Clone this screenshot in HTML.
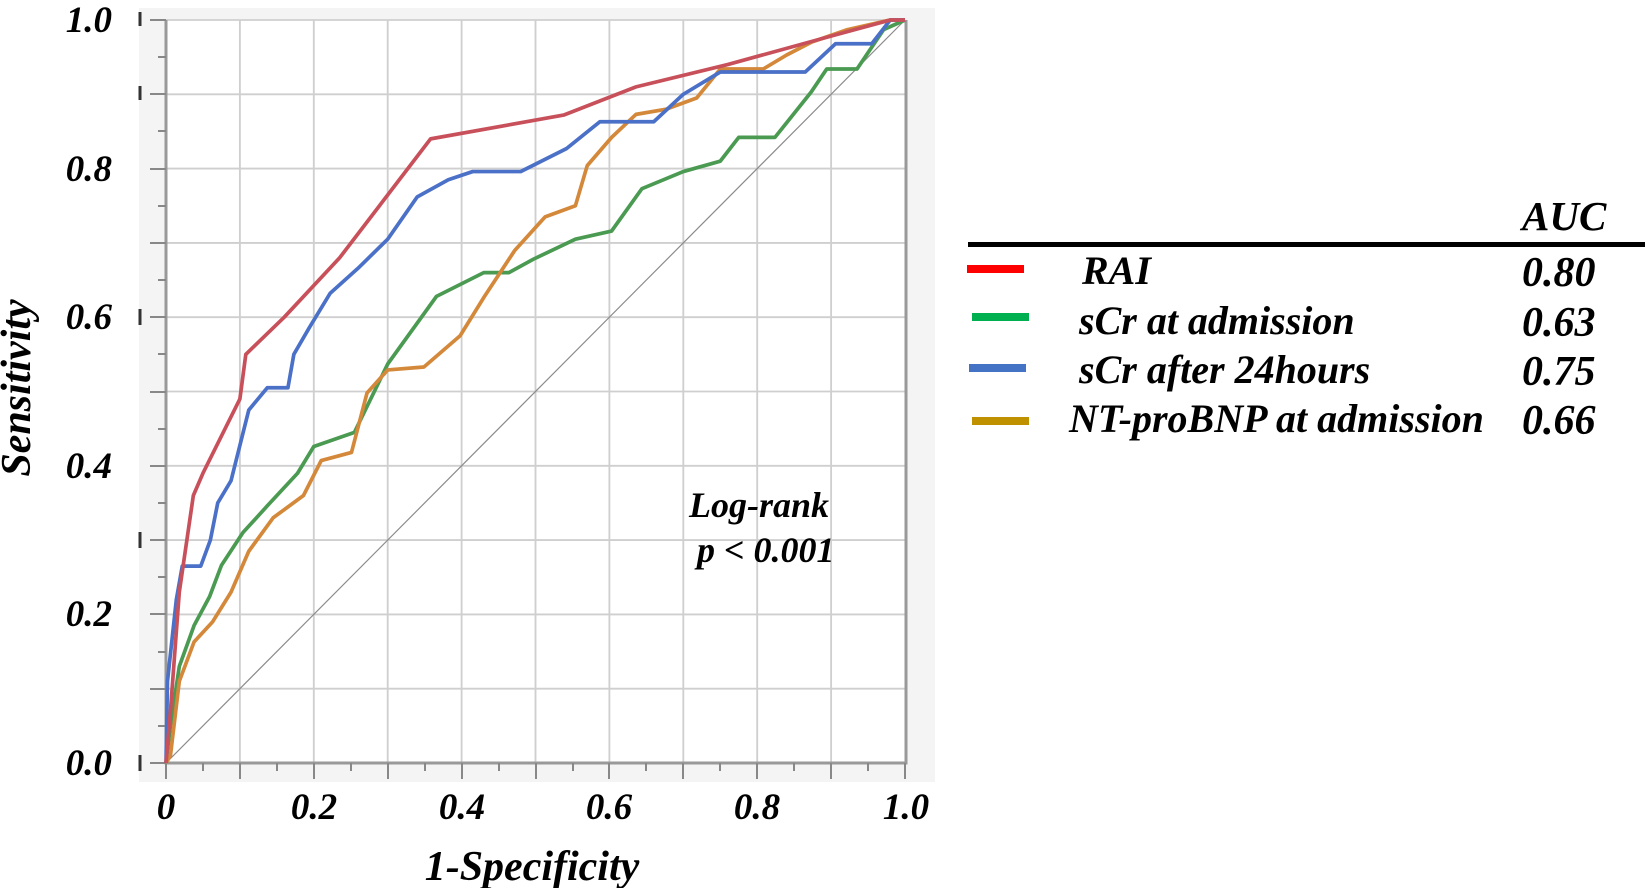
<!DOCTYPE html>
<html><head><meta charset="utf-8"><style>
html,body{margin:0;padding:0;background:#fff;}
svg{display:block;}
text{font-family:"Liberation Serif",serif;font-weight:bold;font-style:italic;fill:#000;}
</style></head><body>
<svg width="1645" height="888" viewBox="0 0 1645 888" xmlns="http://www.w3.org/2000/svg">
<rect x="139" y="8" width="796" height="774" fill="#f4f4f4"/>
<g transform="translate(166,763) scale(739,-743)">
<rect x="0" y="0" width="1" height="1" fill="#fff"/>
<g stroke="#cfcfcf" stroke-width="0.0025" fill="none">
<path d="M0.1 0V1M0.2 0V1M0.3 0V1M0.4 0V1M0.5 0V1M0.6 0V1M0.7 0V1M0.8 0V1M0.9 0V1"/>
<path d="M0 0.1H1M0 0.2H1M0 0.3H1M0 0.4H1M0 0.5H1M0 0.6H1M0 0.7H1M0 0.8H1M0 0.9H1M0 1H1"/>
</g>
<path d="M0 0L1 1" stroke="#8a8a8a" stroke-width="0.0016" fill="none"/>
</g>
<g stroke="#999" stroke-width="3" fill="none">
<path d="M166 20V763H906V20"/>
</g>
<g stroke="#888" stroke-width="2">
<path d="M150 20H166M150 94H166M150 169H166M150 243H166M150 317H166M150 392H166M150 466H166M150 540H166M150 614H166M150 689H166M150 763H166"/>
<path d="M158 57H166M158 131H166M158 206H166M158 280H166M158 354H166M158 429H166M158 503H166M158 577H166M158 652H166M158 726H166"/>
<path d="M166 763V779M240 763V779M314 763V779M388 763V779M462 763V779M536 763V779M609 763V779M683 763V779M757 763V779M831 763V779M905 763V779"/>
<path d="M203 763V771M277 763V771M351 763V771M425 763V771M499 763V771M573 763V771M646 763V771M720 763V771M794 763V771M868 763V771"/>
</g>
<g stroke="#333" stroke-width="3"><path d="M140 12V26M140 86V100M140 309V325M140 532V548M140 755V771"/></g>
<g transform="translate(166,763) scale(739,-743)" fill="none" stroke-width="0.005" stroke-linejoin="round">
<polyline stroke="#4a9a52" points="0,0 0.006,0.05 0.018,0.13 0.038,0.185 0.059,0.224 0.075,0.266 0.104,0.31 0.137,0.346 0.178,0.39 0.2,0.426 0.255,0.445 0.3,0.537 0.366,0.628 0.43,0.66 0.464,0.66 0.497,0.678 0.554,0.705 0.603,0.716 0.644,0.773 0.7,0.796 0.75,0.81 0.775,0.842 0.824,0.842 0.873,0.903 0.894,0.934 0.935,0.934 0.971,0.987 1,1"/>
<polyline stroke="#d4883a" points="0,0 0.006,0.01 0.018,0.11 0.038,0.163 0.063,0.19 0.088,0.23 0.112,0.285 0.145,0.33 0.186,0.36 0.21,0.407 0.251,0.418 0.272,0.498 0.3,0.529 0.349,0.533 0.398,0.575 0.431,0.628 0.472,0.69 0.513,0.735 0.554,0.75 0.57,0.804 0.603,0.842 0.636,0.873 0.677,0.88 0.718,0.895 0.75,0.934 0.808,0.934 0.84,0.953 0.873,0.97 0.922,0.987 0.98,1 1,1"/>
<polyline stroke="#4a70c8" points="0,0 0.002,0.11 0.014,0.22 0.022,0.265 0.047,0.265 0.06,0.3 0.07,0.35 0.088,0.38 0.112,0.475 0.137,0.505 0.165,0.505 0.173,0.55 0.194,0.586 0.222,0.632 0.26,0.666 0.3,0.705 0.34,0.762 0.382,0.785 0.415,0.796 0.48,0.796 0.542,0.827 0.587,0.863 0.66,0.863 0.7,0.9 0.75,0.93 0.865,0.93 0.906,0.968 0.955,0.968 0.98,1 1,1"/>
<polyline stroke="#c8505a" points="0,0 0.006,0.07 0.018,0.23 0.037,0.36 0.05,0.39 0.1,0.49 0.108,0.55 0.16,0.6 0.235,0.68 0.358,0.84 0.538,0.872 0.636,0.91 0.76,0.94 0.906,0.98 0.98,1 1,1"/>
</g>
<g font-size="37" text-anchor="end">
<text x="112" y="32">1.0</text>
<text x="112" y="181">0.8</text>
<text x="112" y="329">0.6</text>
<text x="112" y="478">0.4</text>
<text x="112" y="626">0.2</text>
<text x="112" y="775">0.0</text>
</g>
<g font-size="37" text-anchor="middle">
<text x="166" y="819">0</text>
<text x="314" y="819">0.2</text>
<text x="462" y="819">0.4</text>
<text x="609" y="819">0.6</text>
<text x="757" y="819">0.8</text>
<text x="906" y="819">1.0</text>
<text x="532" y="880" font-size="42">1-Specificity</text>
<text transform="translate(30,388) rotate(-90)" font-size="42">Sensitivity</text>
</g>
<text x="689" y="517" font-size="36">Log-rank</text>
<text x="697" y="562" font-size="36">p &lt; 0.001</text>
<rect x="968" y="242" width="677" height="5" fill="#000"/>
<text x="1522" y="230" font-size="41">AUC</text>
<rect x="967" y="265" width="57" height="8" fill="#ff0000"/>
<rect x="972" y="313" width="57" height="8" fill="#00b050"/>
<rect x="969" y="364" width="57" height="8" fill="#4472c4"/>
<rect x="972" y="417" width="57" height="8" fill="#bf9000"/>
<g font-size="40">
<text x="1082" y="284">RAI</text>
<text x="1079" y="334">sCr at admission</text>
<text x="1079" y="383">sCr after 24hours</text>
<text x="1069" y="432">NT-proBNP at admission</text>
</g>
<g font-size="42">
<text x="1522" y="286">0.80</text>
<text x="1522" y="336">0.63</text>
<text x="1522" y="385">0.75</text>
<text x="1522" y="434">0.66</text>
</g>
</svg>
</body></html>
